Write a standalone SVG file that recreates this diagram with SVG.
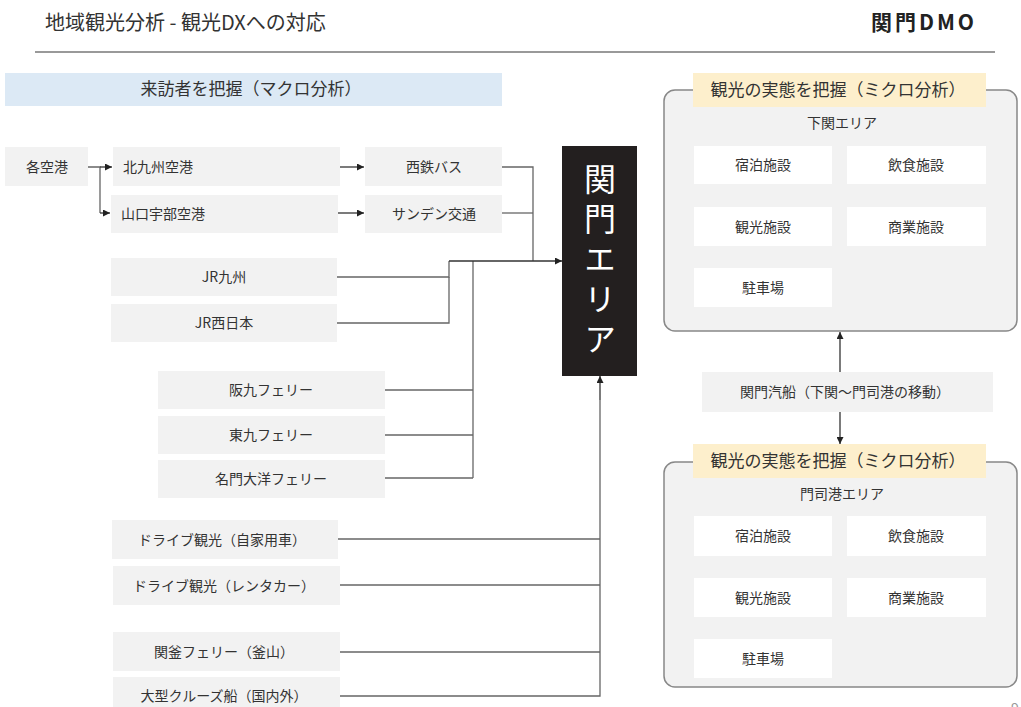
<svg xmlns="http://www.w3.org/2000/svg" width="1021" height="707" viewBox="0 0 1021 707">
<defs>
<marker id="ah" viewBox="0 0 10 10" refX="10" refY="5" markerWidth="7" markerHeight="7" markerUnits="userSpaceOnUse" orient="auto">
<path d="M0,0 L10,5 L0,10 z" fill="#222"/>
</marker>
<style>
text{font-family:"Noto Sans CJK JP","Noto Sans",sans-serif;fill:#333;}
.n{fill:#f2f2f2;}
.w{fill:#ffffff;}
.t{font-size:14px;text-anchor:middle;}
.tl{font-size:14px;}
.c{fill:none;stroke:#666;stroke-width:1.3;}
.a{fill:none;stroke:#333;stroke-width:1.3;marker-end:url(#ah);}
.panel{fill:#f2f2f2;stroke:#888;stroke-width:1.5;}
.tab{fill:#fdefcc;}
.tabt{font-size:17px;text-anchor:middle;fill:#333;}
.v{font-size:32px;fill:#fff;writing-mode:vertical-rl;letter-spacing:8px;}
</style>
</defs>
<rect width="1021" height="707" fill="#ffffff"/>

<g id="header">
<text x="45" y="30" style="font-size:20px">地域観光分析 - 観光DXへの対応</text>
<text x="977" y="30" style="font-size:21px;font-weight:bold;text-anchor:end;letter-spacing:3px;fill:#222">関門DMO</text>
<line x1="35" y1="52" x2="995" y2="52" stroke="#777" stroke-width="1.5"/>
</g>

<g id="macro-title">
<rect x="5" y="73" width="497" height="33" fill="#dce9f5"/>
<text x="251" y="95" style="font-size:17px;text-anchor:middle">来訪者を把握（マクロ分析）</text>
</g>

<g id="connectors">
<path class="c" d="M88,167 H100 V213"/>
<path class="a" d="M100,167 H112"/>
<path class="a" d="M100,213 H110"/>
<path class="a" d="M340,167 H364"/>
<path class="a" d="M338,213 H364"/>
<path class="c" d="M502,167 H533 V261"/>
<path class="c" d="M502,213 H533"/>
<path class="c" d="M337,277 H449 V261"/>
<path class="c" d="M337,323 H449 V277"/>
<path class="c" d="M473,261 V478"/>
<path class="c" d="M385,390 H473"/>
<path class="c" d="M385,435 H473"/>
<path class="c" d="M385,478 H473"/>
<path class="a" d="M449,261 H562"/>
<path class="c" d="M338,539 H600"/>
<path class="c" d="M340,585 H600"/>
<path class="c" d="M340,652 H600"/>
<path class="c" d="M340,696 H600 V400"/>
<path class="a" d="M600,400 V376"/>
<path class="a" d="M840,372 V332"/>
<path class="a" d="M840,412 V444"/>
</g>

<g id="n-airports"><rect class="n" x="5" y="147" width="83" height="39"/><text class="t" x="47" y="172">各空港</text></g>
<g id="n-kitakyushu"><rect class="n" x="113" y="147" width="227" height="39"/><text class="tl" x="123" y="172">北九州空港</text></g>
<g id="n-yamaguchi"><rect class="n" x="111" y="195" width="227" height="38"/><text class="tl" x="121" y="219">山口宇部空港</text></g>
<g id="n-nishitetsu"><rect class="n" x="365" y="147" width="137" height="39"/><text class="t" x="434" y="172">西鉄バス</text></g>
<g id="n-sanden"><rect class="n" x="365" y="195" width="137" height="38"/><text class="t" x="434" y="219">サンデン交通</text></g>
<g id="n-jrq"><rect class="n" x="111" y="258" width="226" height="38"/><text class="t" x="224" y="282">JR九州</text></g>
<g id="n-jrw"><rect class="n" x="111" y="304" width="226" height="38"/><text class="t" x="224" y="328">JR西日本</text></g>
<g id="n-hankyu"><rect class="n" x="158" y="371" width="227" height="38"/><text class="t" x="271" y="395">阪九フェリー</text></g>
<g id="n-higashi"><rect class="n" x="158" y="416" width="227" height="38"/><text class="t" x="271" y="440">東九フェリー</text></g>
<g id="n-meimon"><rect class="n" x="158" y="460" width="227" height="38"/><text class="t" x="271" y="484">名門大洋フェリー</text></g>
<g id="n-drive1"><rect class="n" x="112" y="520" width="226" height="39"/><text class="t" x="222" y="545">ドライブ観光（自家用車）</text></g>
<g id="n-drive2"><rect class="n" x="113" y="566" width="227" height="39"/><text class="t" x="224" y="591">ドライブ観光（レンタカー）</text></g>
<g id="n-kanpu"><rect class="n" x="113" y="632" width="227" height="39"/><text class="t" x="224" y="657">関釜フェリー（釜山）</text></g>
<g id="n-cruise"><rect class="n" x="113" y="677" width="227" height="39"/><text class="t" x="224" y="701">大型クルーズ船（国内外）</text></g>

<g id="n-kanmon">
<rect x="562" y="146" width="75" height="230" fill="#231f1f"/>
<text class="v" x="600" y="163">関門エリア</text>
</g>

<g id="p-shimonoseki">
<rect class="panel" x="664" y="90" width="353" height="241" rx="11"/>
<rect class="tab" x="693" y="73" width="293" height="34"/>
<text class="tabt" x="838" y="96">観光の実態を把握（ミクロ分析）</text>
<text class="t" x="842" y="128">下関エリア</text>
<g id="s-stay"><rect class="w" x="694" y="146" width="138" height="38"/><text class="t" x="763" y="170">宿泊施設</text></g>
<g id="s-food"><rect class="w" x="847" y="146" width="139" height="38"/><text class="t" x="916" y="170">飲食施設</text></g>
<g id="s-sight"><rect class="w" x="694" y="207" width="138" height="39"/><text class="t" x="763" y="232">観光施設</text></g>
<g id="s-shop"><rect class="w" x="847" y="207" width="139" height="39"/><text class="t" x="916" y="232">商業施設</text></g>
<g id="s-park"><rect class="w" x="694" y="268" width="138" height="39"/><text class="t" x="763" y="293">駐車場</text></g>
</g>

<g id="n-kisen"><rect class="n" x="702" y="372" width="291" height="40"/><text class="t" x="845" y="397">関門汽船（下関〜門司港の移動）</text></g>

<g id="p-mojiko">
<rect class="panel" x="664" y="462" width="353" height="225" rx="11"/>
<rect class="tab" x="693" y="444" width="293" height="34"/>
<text class="tabt" x="838" y="467">観光の実態を把握（ミクロ分析）</text>
<text class="t" x="842" y="499">門司港エリア</text>
<g id="m-stay"><rect class="w" x="694" y="516" width="138" height="40"/><text class="t" x="763" y="541">宿泊施設</text></g>
<g id="m-food"><rect class="w" x="847" y="516" width="139" height="40"/><text class="t" x="916" y="541">飲食施設</text></g>
<g id="m-sight"><rect class="w" x="694" y="578" width="138" height="39"/><text class="t" x="763" y="603">観光施設</text></g>
<g id="m-shop"><rect class="w" x="847" y="578" width="139" height="39"/><text class="t" x="916" y="603">商業施設</text></g>
<g id="m-park"><rect class="w" x="694" y="639" width="138" height="39"/><text class="t" x="763" y="664">駐車場</text></g>
</g>

<text x="1011" y="713" style="font-size:14px;fill:#999">9</text>
</svg>
